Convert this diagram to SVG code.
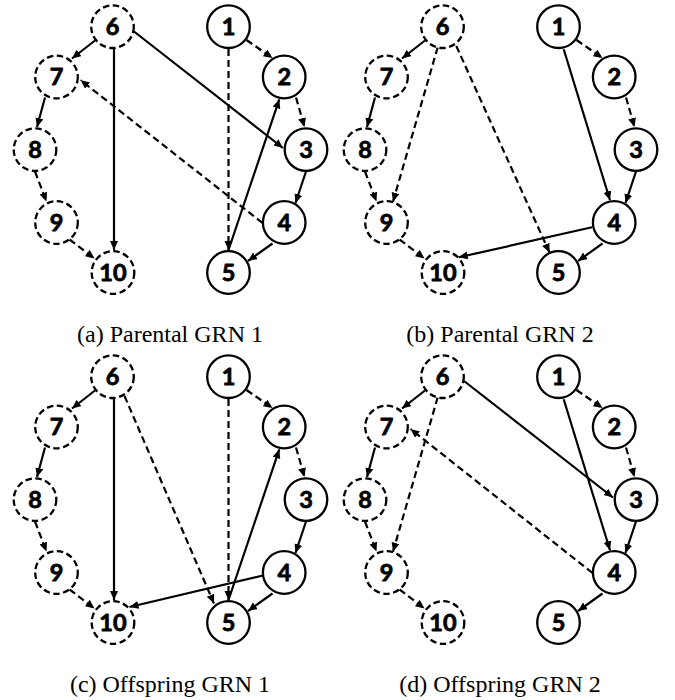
<svg xmlns="http://www.w3.org/2000/svg" width="675" height="700" viewBox="0 0 675 700">
<style>
.n circle{fill:#fff;stroke:#000;stroke-width:2.3}
.n.d circle{stroke-dasharray:6.5 3.5}
.n text{font-family:Lato,"Liberation Sans",sans-serif;font-weight:700;font-size:23.5px;text-anchor:middle;fill:#000;stroke:#000;stroke-width:0.8;stroke-linejoin:round}
.e line{stroke:#000;stroke-width:2.2;fill:none;marker-end:url(#ah)}
.e line.da{stroke-dasharray:7 4}
.cap{font-family:"Liberation Serif","Times New Roman",serif;font-size:24px;text-anchor:middle;fill:#000}
</style>
<defs>
<marker id="ah" markerUnits="userSpaceOnUse" markerWidth="11" markerHeight="9" refX="9" refY="4" orient="auto">
<path d="M0,0 L9,4 L0,8 z" fill="#000"/>
</marker>
</defs>
<rect width="675" height="700" fill="#fff"/>

<!-- Panel (a) -->
<g id="panel-a">
<g id="a-edges" class="e">
<line x1="95" y1="40.5" x2="72" y2="58.5"/>
<line x1="45" y1="97.5" x2="37" y2="127"/>
<line class="da" x1="35" y1="171.5" x2="46.5" y2="201.5"/>
<line class="da" x1="69.5" y1="239.5" x2="94.5" y2="258.5"/>
<line x1="114" y1="49" x2="114" y2="250"/>
<line x1="134" y1="31.5" x2="283" y2="148"/>
<line class="da" x1="262.5" y1="223" x2="80.5" y2="80"/>
<line class="da" x1="246.5" y1="40" x2="272.5" y2="58"/>
<line class="da" x1="296" y1="97.5" x2="304.5" y2="127"/>
<line x1="306" y1="171.5" x2="295.5" y2="203"/>
<line x1="272.5" y1="243.5" x2="248" y2="261"/>
<line class="da" x1="228.5" y1="49" x2="228.5" y2="250"/>
<line x1="228.5" y1="250" x2="279.3" y2="99.3"/>
</g>
<g id="a-n1" class="n"><circle cx="228.5" cy="26.7" r="21.3"/><text x="228.5" y="35">1</text></g>
<g id="a-n2" class="n"><circle cx="284.2" cy="77" r="21.3"/><text x="284.2" y="85.3">2</text></g>
<g id="a-n3" class="n"><circle cx="306" cy="149.6" r="21.3"/><text x="306" y="157.9">3</text></g>
<g id="a-n4" class="n"><circle cx="284.2" cy="222.5" r="21.3"/><text x="284.2" y="230.8">4</text></g>
<g id="a-n5" class="n"><circle cx="228.5" cy="272.5" r="21.3"/><text x="228.5" y="280.8">5</text></g>
<g id="a-n6" class="n d"><circle cx="112.5" cy="26.7" r="21.3"/><text x="112.5" y="35">6</text></g>
<g id="a-n7" class="n d"><circle cx="56.5" cy="77" r="21.3"/><text x="56.5" y="85.3">7</text></g>
<g id="a-n8" class="n d"><circle cx="35" cy="149.6" r="21.3"/><text x="35" y="157.9">8</text></g>
<g id="a-n9" class="n d"><circle cx="56.5" cy="222.5" r="21.3"/><text x="56.5" y="230.8">9</text></g>
<g id="a-n10" class="n d"><circle cx="113" cy="272.5" r="21.3"/><text x="113" y="280.8">10</text></g>
<text class="cap" x="170" y="341.5">(a) Parental GRN 1</text>
</g>

<!-- Panel (b) -->
<g id="panel-b" transform="translate(330,0)">
<g id="b-edges" class="e">
<line x1="95" y1="40.5" x2="72" y2="58.5"/>
<line x1="45" y1="97.5" x2="37" y2="127"/>
<line class="da" x1="35" y1="171.5" x2="46.5" y2="201.5"/>
<line class="da" x1="69.5" y1="239.5" x2="94.5" y2="258.5"/>
<line class="da" x1="107.7" y1="47.3" x2="63" y2="201.7"/>
<line class="da" x1="126.3" y1="46" x2="219.5" y2="252.5"/>
<line class="da" x1="246.5" y1="40" x2="272.5" y2="58"/>
<line class="da" x1="296" y1="97.5" x2="304.5" y2="127"/>
<line x1="306" y1="171.5" x2="295.5" y2="203"/>
<line x1="233.7" y1="49.3" x2="280" y2="200.3"/>
<line x1="272.5" y1="243.5" x2="248" y2="261"/>
<line x1="262" y1="227.3" x2="128.7" y2="257.3"/>
</g>
<g id="b-n1" class="n"><circle cx="228.5" cy="26.7" r="21.3"/><text x="228.5" y="35">1</text></g>
<g id="b-n2" class="n"><circle cx="284.2" cy="77" r="21.3"/><text x="284.2" y="85.3">2</text></g>
<g id="b-n3" class="n"><circle cx="306" cy="149.6" r="21.3"/><text x="306" y="157.9">3</text></g>
<g id="b-n4" class="n"><circle cx="284.2" cy="222.5" r="21.3"/><text x="284.2" y="230.8">4</text></g>
<g id="b-n5" class="n"><circle cx="228.5" cy="272.5" r="21.3"/><text x="228.5" y="280.8">5</text></g>
<g id="b-n6" class="n d"><circle cx="112.5" cy="26.7" r="21.3"/><text x="112.5" y="35">6</text></g>
<g id="b-n7" class="n d"><circle cx="56.5" cy="77" r="21.3"/><text x="56.5" y="85.3">7</text></g>
<g id="b-n8" class="n d"><circle cx="35" cy="149.6" r="21.3"/><text x="35" y="157.9">8</text></g>
<g id="b-n9" class="n d"><circle cx="56.5" cy="222.5" r="21.3"/><text x="56.5" y="230.8">9</text></g>
<g id="b-n10" class="n d"><circle cx="113" cy="272.5" r="21.3"/><text x="113" y="280.8">10</text></g>
<text class="cap" x="170" y="341.5">(b) Parental GRN 2</text>
</g>

<!-- Panel (c) -->
<g id="panel-c" transform="translate(0,350)">
<g id="c-edges" class="e">
<line x1="95" y1="40.5" x2="72" y2="58.5"/>
<line x1="45" y1="97.5" x2="37" y2="127"/>
<line class="da" x1="35" y1="171.5" x2="46.5" y2="201.5"/>
<line class="da" x1="69.5" y1="239.5" x2="94.5" y2="258.5"/>
<line x1="114" y1="49" x2="114" y2="250"/>
<line class="da" x1="124.5" y1="46" x2="214" y2="253.5"/>
<line class="da" x1="246.5" y1="40" x2="272.5" y2="58"/>
<line class="da" x1="296" y1="97.5" x2="304.5" y2="127"/>
<line x1="306" y1="171.5" x2="295.5" y2="203"/>
<line x1="272.5" y1="243.5" x2="248" y2="261"/>
<line class="da" x1="228.5" y1="49" x2="228.5" y2="250"/>
<line x1="228.5" y1="250" x2="279.3" y2="99.3"/>
<line x1="263" y1="225.5" x2="129.5" y2="257"/>
</g>
<g id="c-n1" class="n"><circle cx="228.5" cy="26.7" r="21.3"/><text x="228.5" y="35">1</text></g>
<g id="c-n2" class="n"><circle cx="284.2" cy="77" r="21.3"/><text x="284.2" y="85.3">2</text></g>
<g id="c-n3" class="n"><circle cx="306" cy="149.6" r="21.3"/><text x="306" y="157.9">3</text></g>
<g id="c-n4" class="n"><circle cx="284.2" cy="222.5" r="21.3"/><text x="284.2" y="230.8">4</text></g>
<g id="c-n5" class="n"><circle cx="228.5" cy="272.5" r="21.3"/><text x="228.5" y="280.8">5</text></g>
<g id="c-n6" class="n d"><circle cx="112.5" cy="26.7" r="21.3"/><text x="112.5" y="35">6</text></g>
<g id="c-n7" class="n d"><circle cx="56.5" cy="77" r="21.3"/><text x="56.5" y="85.3">7</text></g>
<g id="c-n8" class="n d"><circle cx="35" cy="149.6" r="21.3"/><text x="35" y="157.9">8</text></g>
<g id="c-n9" class="n d"><circle cx="56.5" cy="222.5" r="21.3"/><text x="56.5" y="230.8">9</text></g>
<g id="c-n10" class="n d"><circle cx="113" cy="272.5" r="21.3"/><text x="113" y="280.8">10</text></g>
<text class="cap" x="170" y="341.5">(c) Offspring GRN 1</text>
</g>

<!-- Panel (d) -->
<g id="panel-d" transform="translate(330,350)">
<g id="d-edges" class="e">
<line x1="95" y1="40.5" x2="72" y2="58.5"/>
<line x1="45" y1="97.5" x2="37" y2="127"/>
<line class="da" x1="35" y1="171.5" x2="46.5" y2="201.5"/>
<line class="da" x1="69.5" y1="239.5" x2="94.5" y2="258.5"/>
<line class="da" x1="107.7" y1="47.3" x2="63" y2="201.7"/>
<line x1="134" y1="31" x2="283" y2="147.5"/>
<line class="da" x1="262.5" y1="223" x2="80.5" y2="79"/>
<line class="da" x1="246.5" y1="40" x2="272.5" y2="58"/>
<line class="da" x1="296" y1="97.5" x2="304.5" y2="127"/>
<line x1="306" y1="171.5" x2="295.5" y2="203"/>
<line x1="233.7" y1="49.3" x2="280" y2="200.3"/>
<line x1="272.5" y1="243.5" x2="248" y2="261"/>
</g>
<g id="d-n1" class="n"><circle cx="228.5" cy="26.7" r="21.3"/><text x="228.5" y="35">1</text></g>
<g id="d-n2" class="n"><circle cx="284.2" cy="77" r="21.3"/><text x="284.2" y="85.3">2</text></g>
<g id="d-n3" class="n"><circle cx="306" cy="149.6" r="21.3"/><text x="306" y="157.9">3</text></g>
<g id="d-n4" class="n"><circle cx="284.2" cy="222.5" r="21.3"/><text x="284.2" y="230.8">4</text></g>
<g id="d-n5" class="n"><circle cx="228.5" cy="272.5" r="21.3"/><text x="228.5" y="280.8">5</text></g>
<g id="d-n6" class="n d"><circle cx="112.5" cy="26.7" r="21.3"/><text x="112.5" y="35">6</text></g>
<g id="d-n7" class="n d"><circle cx="56.5" cy="77" r="21.3"/><text x="56.5" y="85.3">7</text></g>
<g id="d-n8" class="n d"><circle cx="35" cy="149.6" r="21.3"/><text x="35" y="157.9">8</text></g>
<g id="d-n9" class="n d"><circle cx="56.5" cy="222.5" r="21.3"/><text x="56.5" y="230.8">9</text></g>
<g id="d-n10" class="n d"><circle cx="113" cy="272.5" r="21.3"/><text x="113" y="280.8">10</text></g>
<text class="cap" x="170" y="341.5">(d) Offspring GRN 2</text>
</g>
</svg>
